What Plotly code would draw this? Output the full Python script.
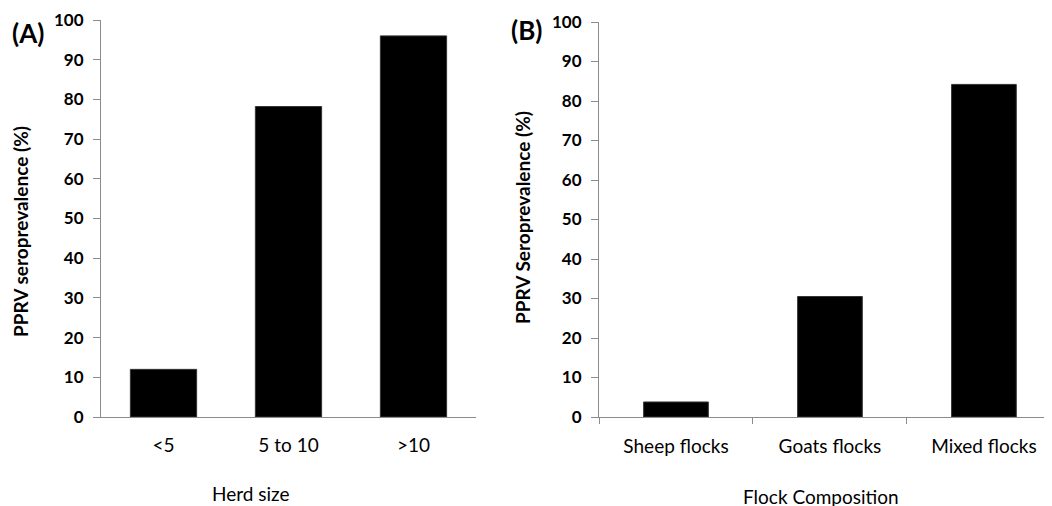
import plotly.graph_objects as go

herd_cats = ["<5", "5 to 10", ">10"]
herd_vals = [12, 78.2, 96]
flock_cats = ["Sheep flocks", "Goats flocks", "Mixed flocks"]
flock_vals = [3.8, 30.5, 84.2]
y_ticks = [0, 10, 20, 30, 40, 50, 60, 70, 80, 90, 100]

W, H = 1052, 506
OFF = 8  # page body margin offset
FONT = "Lato"
AX = "#8c8c8c"

fig = go.Figure()
fig.add_trace(go.Bar(x=herd_cats, y=herd_vals, width=0.53, marker=dict(color="black", line=dict(color="#333", width=1)),
                     xaxis="x", yaxis="y", showlegend=False))
fig.add_trace(go.Bar(x=flock_cats, y=flock_vals, width=0.42, marker=dict(color="black", line=dict(color="#333", width=1)),
                     xaxis="x2", yaxis="y2", showlegend=False))

ytick_font = dict(family=FONT, size=17, color="black", weight="bold")
xtick_font = dict(family=FONT, size=19, color="black")

def px_x(p):
    return min(1.0, (p - OFF) / W)

def px_y(p):
    return 1 - (p - OFF) / H

fig.update_layout(
    template="none",
    width=W, height=H,
    margin=dict(l=0, r=0, t=0, b=0, pad=0),
    plot_bgcolor="white", paper_bgcolor="white",
    bargap=0.2,
    xaxis=dict(domain=[px_x(101), px_x(476)], anchor="y", type="category", range=[-0.5, 2.5],
               showline=True, linecolor=AX, linewidth=1, ticks="", tickfont=xtick_font,
               showgrid=False, zeroline=False, automargin=False, ticklabelstandoff=11),
    yaxis=dict(domain=[px_y(417), px_y(20)], anchor="x", range=[0, 100], tickvals=y_ticks,
               showline=True, linecolor=AX, linewidth=1, ticks="outside", ticklen=7, tickcolor=AX,
               tickfont=ytick_font, showgrid=False, zeroline=False, ticklabelstandoff=6, automargin=False),
    xaxis2=dict(domain=[px_x(599), 1.0], anchor="y2", type="category", range=[-0.5, 2.494],
                showline=True, linecolor=AX, linewidth=1, ticks="outside", ticklen=6, tickcolor=AX,
                tickson="boundaries", tickfont=xtick_font, showgrid=False, zeroline=False, automargin=False,
                ticklabelstandoff=12),
    yaxis2=dict(domain=[px_y(417), px_y(22)], anchor="x2", range=[0, 100], tickvals=y_ticks,
                showline=True, linecolor=AX, linewidth=1, ticks="outside", ticklen=7, tickcolor=AX,
                tickfont=ytick_font, showgrid=False, zeroline=False, ticklabelstandoff=6, automargin=False),
    annotations=[
        dict(text="PPRV seroprevalence (%)", x=px_x(20), y=px_y(232), xref="paper", yref="paper",
             xanchor="center", yanchor="middle",
             textangle=-90, showarrow=False, font=dict(family=FONT, size=19, color="black", weight="bold")),
        dict(text="PPRV Seroprevalence (%)", x=px_x(522), y=px_y(218), xref="paper", yref="paper",
             xanchor="center", yanchor="middle",
             textangle=-90, showarrow=False, font=dict(family=FONT, size=19, color="black", weight="bold")),
        dict(text="Herd size", x=px_x(251), y=px_y(493), xref="paper", yref="paper",
             xanchor="center", yanchor="middle",
             showarrow=False, font=dict(family=FONT, size=19, color="black")),
        dict(text="Flock Composition", x=px_x(821), y=px_y(496), xref="paper", yref="paper",
             xanchor="center", yanchor="middle",
             showarrow=False, font=dict(family=FONT, size=19, color="black")),
        dict(text="(A)", x=px_x(28), y=px_y(33), xref="paper", yref="paper",
             xanchor="center", yanchor="middle",
             showarrow=False, font=dict(family=FONT, size=26, color="black", weight="bold")),
        dict(text="(B)", x=px_x(526), y=px_y(30), xref="paper", yref="paper",
             xanchor="center", yanchor="middle",
             showarrow=False, font=dict(family=FONT, size=26, color="black", weight="bold")),
    ],
)

fig.write_html("out.html")
